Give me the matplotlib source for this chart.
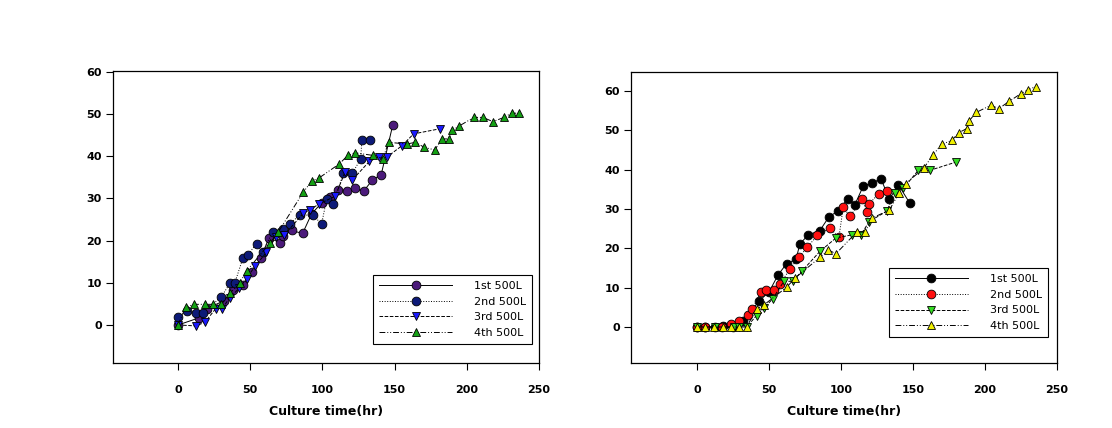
import matplotlib
matplotlib.use("Agg")
import matplotlib.pyplot as plt

labels = ["1st 500L", "2nd 500L", "3rd 500L", "4th 500L"]

# left panel
l1_x = [0, 14.6, 20.1, 32.2, 38, 45, 51.4, 57.6, 63, 70.6, 72.5, 78.7, 86.3, 92.6, 99.5, 105.3,
        111, 116.9, 122.7, 128.5, 134.7, 140.7, 148.8]
l1_y = [0, 1.7, 3.9, 5.8, 8.4, 9.4, 12.6, 15.9, 20.7, 19.5, 21, 22.4, 21.7, 26.4, 28.9, 30.3,
        31.9, 31.7, 32.4, 31.7, 34.4, 35.6, 47.5]
l2_x = [0, 6.3, 12.3, 17.4, 30, 36.3, 39.4, 45, 48.6, 54.4, 58.6, 65.5, 72.5, 77.5, 84.5, 93.3,
        99.5, 103, 107.6, 114.6, 120.8, 126.6, 127.3, 133.1]
l2_y = [2, 3.4, 2.8, 2.9, 6.7, 10, 10, 15.9, 16.7, 19.3, 17.3, 22, 22.8, 24, 26.1, 26,
        24, 29.9, 28.6, 36, 36, 39.4, 43.9, 43.9]
l3_x = [0, 12.3, 18.5, 26.2, 30.6, 35.9, 42.4, 47.5, 53.2, 61.3, 67.8, 73.6, 86.8, 91.4, 97.7,
        108.8, 115.7, 120.8, 132.6, 138.9, 144.7, 155.1, 163.2, 181.3]
l3_y = [0, -0.2, 0.6, 3.9, 3.9, 6.5, 8.7, 11, 13.9, 17.2, 20.9, 21.3, 26.5, 27.3, 28.7,
        30.5, 36.2, 34.4, 38.8, 39.8, 39.8, 42.5, 45.3, 46.5]
l4_x = [0, 5.3, 11.1, 18.5, 24.3, 30.1, 35.9, 42.8, 47.5, 63.7, 69.4, 86.8, 92.6, 97.9, 111.8,
        117.6, 122.7, 135, 141.9, 145.8, 158.6, 164.4, 170.6, 177.8, 182.9, 188, 189.8, 194.9,
        204.9, 211.2, 218.1, 225.7, 231, 236.1]
l4_y = [0, 4.2, 4.9, 4.9, 4.9, 4.9, 7.5, 10, 12.8, 19.4, 22, 31.5, 34.1, 34.9, 38.2,
        40.2, 40.8, 40.2, 39.4, 43.3, 42.9, 43.3, 42.1, 41.5, 44.1, 44.1, 46.1, 47.2,
        49.2, 49.2, 48.2, 49.2, 50.2, 50.2]

# right panel
r1_x = [0, 5.8, 12.3, 18.3, 25.2, 31.7, 43.3, 50.2, 56.5, 62.3, 68.8, 71.5, 77.3, 85.4, 91.7,
        97.7, 104.6, 109.7, 115.5, 121.8, 127.8, 133.6, 139.8, 147.9]
r1_y = [0, 0, 0, 0.2, 0, 1.5, 6.6, 9, 13.3, 16.1, 17.2, 21.1, 23.4, 24.5, 28,
        29.4, 32.5, 31.1, 35.8, 36.6, 37.7, 32.4, 36.2, 31.4]
r2_x = [0, 5.6, 17.1, 23.6, 29.4, 35.2, 38.4, 44.2, 47.7, 53.5, 57.6, 64.6, 71.1, 76.6, 83.6,
        92.4, 98.6, 101.6, 106.3, 114.8, 117.8, 119.7, 126.2, 131.7]
r2_y = [0, 0, 0, 0.8, 1.6, 3.1, 4.5, 8.8, 9.4, 9.4, 10.9, 14.7, 17.9, 20.2, 23.3,
        25.1, 22.8, 30.4, 28.1, 32.5, 29.2, 31.3, 33.9, 34.5]
r3_x = [0, 12.3, 25.5, 29, 34.5, 41.4, 46.5, 52.5, 60.4, 66.4, 72.7, 85.4, 96.5, 107.4, 113.7,
        119.7, 131.7, 137.5, 143.3, 153.7, 161.8, 179.9]
r3_y = [0, 0, 0, 0, 0, 2.9, 4.8, 7.1, 11.6, 11.6, 14.1, 19.2, 22.6, 23.4, 23.4,
        26.8, 29.4, 34.1, 35.2, 39.8, 39.8, 41.9]
r4_x = [0, 5.6, 11.6, 17.8, 23.6, 29.4, 34.5, 41.4, 46.5, 62.3, 68.1, 85.4, 91.2, 96.5, 110.9,
        116.7, 121.8, 133.6, 140.5, 144.9, 157.6, 163.7, 169.9, 176.9, 182, 187.3, 188.9, 193.8,
        204, 209.7, 216.7, 225, 229.7, 235.2]
r4_y = [0, 0, 0, 0, 0, 0, 0, 4.5, 5.6, 10.1, 12.4, 17.7, 19.6, 18.6, 24.1,
        24.1, 27.7, 29.7, 34.1, 36.4, 40.4, 43.6, 46.4, 47.4, 49.4, 50.4, 52.3, 54.5,
        56.3, 55.5, 57.3, 59.3, 60.2, 61.1]

xticks = [0, 50, 100, 150, 200, 250]
yticks = [0, 10, 20, 30, 40, 50, 60]

styles = ['-', ':', '--', (0, (6, 2, 1, 2, 1, 2))]
markers = ['o', 'o', 'v', '^']


def panel(ax, series, colors, xlim, ylim, leg_anchor):
    for (x, y), c, ls, m, lab in zip(series, colors, styles, markers, labels):
        ax.plot(x, y, color='black', linestyle=ls, linewidth=0.7, marker=m,
                markersize=6.3, markerfacecolor=c, markeredgecolor='black',
                markeredgewidth=0.6, label=lab)
    ax.set_xlim(*xlim)
    ax.set_ylim(*ylim)
    ax.set_xticks(xticks)
    ax.set_yticks(yticks)
    ax.tick_params(direction='out', length=5, width=0.8, labelsize=8, pad=3)
    ax.tick_params(axis='x', pad=11)
    for t in ax.get_xticklabels() + ax.get_yticklabels():
        t.set_fontweight('bold')
    for s in ax.spines.values():
        s.set_linewidth(0.9)
    ax.set_xlabel('Culture time(hr)', fontsize=9, fontweight='bold', labelpad=7)
    leg = ax.legend(loc='lower right', bbox_to_anchor=leg_anchor, fontsize=8,
                    frameon=True, fancybox=False, edgecolor='black', framealpha=1,
                    handlelength=6.5, handletextpad=2, borderpad=0.55, labelspacing=0.5,
                    borderaxespad=0)
    leg.get_frame().set_linewidth(0.8)


fig = plt.figure(figsize=(11.12, 4.28), dpi=100)
ax1 = fig.add_axes([0.1016, 0.1519, 0.3831, 0.6822])
ax2 = fig.add_axes([0.5674, 0.1519, 0.3831, 0.6800])

panel(ax1, [(l1_x, l1_y), (l2_x, l2_y), (l3_x, l3_y), (l4_x, l4_y)],
      ['#4b1a7a', '#0d1a78', '#1a1aff', '#14a014'], (-45, 250), (-9, 60.2), (0.984, 0.065))
panel(ax2, [(r1_x, r1_y), (r2_x, r2_y), (r3_x, r3_y), (r4_x, r4_y)],
      ['#000000', '#ff1010', '#33dd22', '#f0f000'], (-45.8, 250), (-9.15, 64.8), (0.979, 0.089))

fig.savefig('out.png', dpi=100)
